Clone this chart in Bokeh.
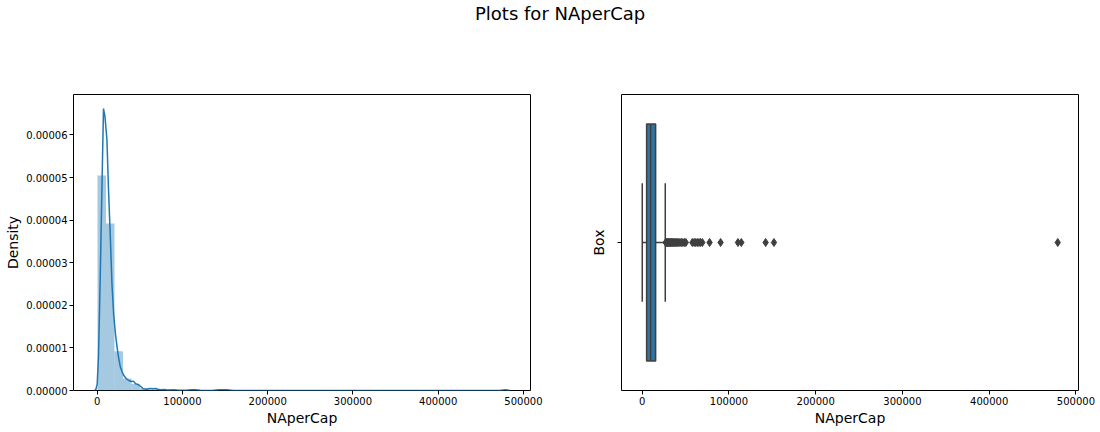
from bokeh.plotting import figure
from bokeh.models import Range1d, FixedTicker, PrintfTickFormatter, Div
from bokeh.layouts import column, row
from bokeh.embed import file_html
from bokeh.resources import INLINE

FONT = "DejaVu Sans"

# histogram (density) bins
bin_start = 350
bin_width = 9960
hist_density = [5.05e-5, 3.92e-5, 9.2e-6, 2.8e-6, 1.5e-6, 5e-7, 3e-7, 2e-7,
                1e-7, 3e-8, 3e-8, 1e-7, 2e-8, 3e-8, 1e-7, 3e-8, 0, 0, 0, 0,
                0, 0, 0, 0, 0, 0, 0, 0, 0, 0, 0, 0, 0, 0, 0, 0, 0, 0, 0, 0,
                0, 0, 0, 0, 0, 0, 0, 2e-8]

# kde curve
kde_x = [-3400, -1500, 0, 1500, 3500, 5500, 7400, 9000, 11400, 13300, 15400,
         17300, 19300, 21300, 23300, 25300, 27200, 29200, 31200, 34000, 37000,
         40000, 42500, 45000, 48000, 50800, 54000, 58700, 62000, 65500, 68500,
         71000, 75000, 78500, 82300, 90000, 96000, 104000, 111000, 115000,
         121000, 135000, 143000, 152000, 160000, 200000, 300000, 400000,
         472000, 479000, 484000]
kde_y = [0, 3e-7, 1.5e-6, 8e-6, 2.6e-5, 4.7e-5, 6.62e-5, 6.45e-5, 5.9e-5,
         4.7e-5, 3.6e-5, 2.5e-5, 1.8e-5, 1.35e-5, 1.02e-5, 7.5e-6, 5.5e-6,
         4.4e-6, 3.5e-6, 2.8e-6, 2.35e-6, 2.1e-6, 2.2e-6, 1.6e-6, 1.4e-6,
         1.0e-6, 4e-7, 3e-7, 5e-7, 4e-7, 5e-7, 3e-7, 2e-7, 2.5e-7, 1e-7,
         1.5e-7, 5e-8, 5e-8, 2e-7, 2e-7, 5e-8, 2e-8, 1.5e-7, 1.5e-7, 2e-8,
         1e-8, 0, 0, 1e-8, 1.5e-7, 0]

# box plot stats
whisker_lo = 100
q1 = 5100
median = 9700
q3 = 15500
whisker_hi = 26600
outliers = [27100, 27600, 28200, 28900, 29500, 30300, 31000, 31800, 32500,
            33400, 34200, 35100, 36000, 37200, 38300, 39500, 40800, 42100,
            43600, 45200, 46900, 48700, 50300, 57800, 59900, 61600, 63500,
            65400, 67200, 69300, 77700, 90400, 110400, 114300, 142300,
            151900, 479000]

x_ticks = [0, 100000, 200000, 300000, 400000, 500000]
y_ticks = [0, 1e-5, 2e-5, 3e-5, 4e-5, 5e-5, 6e-5]

BLUE = "#1f77b4"
GREY = "#3f3f3f"


def style(p, xlabel, ylabel):
    p.outline_line_color = "black"
    p.outline_line_width = 1
    p.xgrid.visible = False
    p.ygrid.visible = False
    for ax in (p.xaxis[0], p.yaxis[0]):
        ax.axis_line_color = None
        ax.major_tick_in = 0
        ax.major_tick_out = 4
        ax.minor_tick_line_color = None
        ax.major_tick_line_color = "black"
        ax.major_label_text_font = FONT
        ax.major_label_text_font_size = "10px"
        ax.major_label_text_color = "black"
        ax.major_label_standoff = 2
        ax.axis_label_text_font = FONT
        ax.axis_label_text_font_size = "14px"
        ax.axis_label_text_font_style = "normal"
        ax.axis_label_text_color = "black"
        ax.axis_label_standoff = 2
    p.xaxis.axis_label = xlabel
    p.yaxis.axis_label = ylabel
    p.xaxis.ticker = FixedTicker(ticks=x_ticks)
    p.xaxis.formatter = PrintfTickFormatter(format="%d")


# left: distribution plot
p1 = figure(frame_width=457, frame_height=296, output_backend="svg",
            toolbar_location=None, x_range=Range1d(-27800, 508300),
            y_range=Range1d(0, 6.95e-5),
            min_border_left=73, min_border_right=18, min_border_top=68,
            min_border_bottom=34)
lefts = [bin_start + i * bin_width for i in range(len(hist_density))]
rights = [l + bin_width for l in lefts]
p1.quad(left=lefts, right=rights, top=hist_density, bottom=0,
        fill_color=BLUE, fill_alpha=0.4, line_color=None)
p1.line(kde_x, kde_y, line_color=BLUE, line_width=1.5)
style(p1, "NAperCap", "Density")
p1.yaxis.ticker = FixedTicker(ticks=y_ticks)
p1.yaxis.formatter = PrintfTickFormatter(format="%.5f")

# right: box plot
p2 = figure(frame_width=457, frame_height=296, output_backend="svg",
            toolbar_location=None, x_range=Range1d(-23845, 502945),
            y_range=Range1d(-0.5, 0.5),
            min_border_left=73, min_border_right=20, min_border_top=68,
            min_border_bottom=34)
p2.segment(x0=[whisker_lo, q3], y0=[0, 0], x1=[q1, whisker_hi], y1=[0, 0],
           line_color=GREY, line_width=1.5)
p2.segment(x0=[whisker_lo, whisker_hi], y0=[-0.2, -0.2],
           x1=[whisker_lo, whisker_hi], y1=[0.2, 0.2],
           line_color=GREY, line_width=1.5)
p2.quad(left=[q1], right=[q3], bottom=[-0.4], top=[0.4],
        fill_color="#3274a1", line_color=GREY, line_width=1.5)
p2.segment(x0=[median], y0=[-0.4], x1=[median], y1=[0.4],
           line_color=GREY, line_width=1.5)
p2.scatter(outliers, [0] * len(outliers), marker="diamond", size=8,
           fill_color=GREY, line_color=GREY)
style(p2, "NAperCap", "Box")
p2.yaxis.ticker = FixedTicker(ticks=[0])
p2.yaxis.major_label_overrides = {0: " "}

title = Div(text="Plots for NAperCap", width=1098, height=26, margin=(0, 0, 0, 0),
            styles={"text-align": "left", "font-size": "18px",
                    "font-family": FONT, "color": "black",
                    "line-height": "28px", "padding-left": "475px"})

layout = column(title, row(p1, p2, spacing=0), spacing=0)

open("out.html", "w").write(file_html(layout, INLINE))
